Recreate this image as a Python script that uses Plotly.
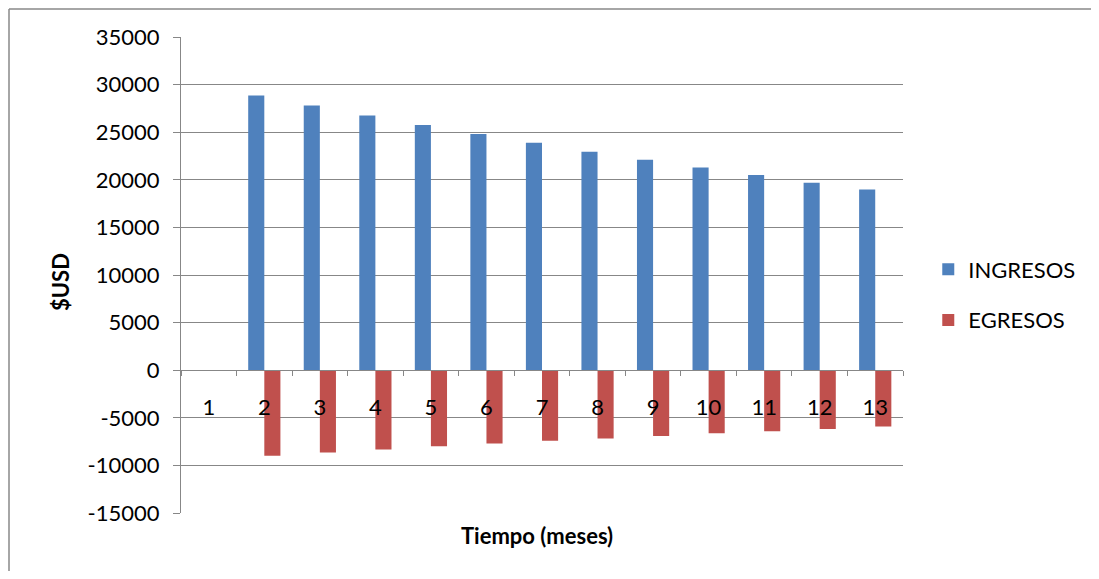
import plotly.graph_objects as go

meses = ["1", "2", "3", "4", "5", "6", "7", "8", "9", "10", "11", "12", "13"]
ingresos = [0, 28850, 27800, 26750, 25750, 24800, 23900, 22950, 22100, 21300, 20500, 19700, 18970]
egresos = [0, -8980, -8650, -8320, -8000, -7700, -7420, -7180, -6900, -6620, -6400, -6180, -5920]
y_ticks = [-15000, -10000, -5000, 0, 5000, 10000, 15000, 20000, 25000, 30000, 35000]

OFF = 8  # page body margin
W, H = 1099 - 2 * OFF, 579 - 2 * OFF
PL, PR, PT, PB = 181, 903, 37, 513  # plot area in page pixels
ML, MT = PL - OFF, PT - OFF
MR, MB = W + OFF - PR, H + OFF - PB
pw = PR - PL
ph = PB - PT
ymin, ymax = -15000, 35000
zero_pos = (0 - ymin) / (ymax - ymin)

def px(x):
    return (x - PL) / pw

def py(y):
    return (PB - y) / ph

FONT = "Lato"
FS = 22
GRID = "#878787"

fig = go.Figure()
fig.add_trace(go.Bar(x=meses, y=ingresos, name="INGRESOS", legendgroup="a",
                     marker=dict(color="#4F81BD", line=dict(width=0))))
fig.add_trace(go.Bar(x=meses, y=egresos, name="EGRESOS", legendgroup="b",
                     marker=dict(color="#C0504D", line=dict(width=0))))

fig.update_layout(
    width=W, height=H,
    margin=dict(l=ML, r=MR, t=MT, b=MB, autoexpand=False),
    paper_bgcolor="white", plot_bgcolor="white",
    font=dict(family=FONT, size=FS, color="black"),
    barmode="group", bargap=0.42, bargroupgap=0,
    showlegend=True,
    legend=dict(x=1.035, xanchor="left", xref="paper", y=py(295), yanchor="middle",
                font=dict(size=FS), tracegroupgap=19, itemwidth=30,
                bgcolor="rgba(0,0,0,0)"),
    xaxis=dict(type="category", anchor="free", position=zero_pos,
               showline=True, linecolor=GRID, linewidth=1,
               ticks="outside", ticklen=5, tickcolor=GRID, tickson="boundaries",
               showgrid=False, ticklabelstandoff=17, zeroline=False,
               tickfont=dict(size=FS)),
    yaxis=dict(range=[ymin, ymax], tickmode="array", tickvals=y_ticks,
               ticktext=[str(v) for v in y_ticks],
               showline=True, linecolor=GRID, linewidth=1,
               ticks="outside", ticklen=7, tickcolor=GRID, ticklabelstandoff=9,
               showgrid=True, gridcolor=GRID, gridwidth=1,
               zeroline=False, tickfont=dict(size=FS)),
)

# y axis title
fig.add_annotation(text="<b>$USD</b>", xref="paper", yref="paper",
                   x=px(60), y=py(282), textangle=-90,
                   showarrow=False, font=dict(size=FS), yanchor="middle", xanchor="center")

# x axis title
fig.add_annotation(text="<b>Tiempo (meses)</b>", xref="paper", yref="paper",
                   x=px(537), y=py(535),
                   showarrow=False, font=dict(size=FS), yanchor="middle", xanchor="center")

# chart area border (top and left edges visible)
border = dict(color="#888888", width=1.5)
fig.add_shape(type="line", xref="paper", yref="paper",
              x0=px(9), x1=px(1200), y0=py(9), y1=py(9), line=border, layer="below")
fig.add_shape(type="line", xref="paper", yref="paper",
              x0=px(9), x1=px(9), y0=py(9), y1=py(700), line=border, layer="below")

fig.write_html("out.html")
